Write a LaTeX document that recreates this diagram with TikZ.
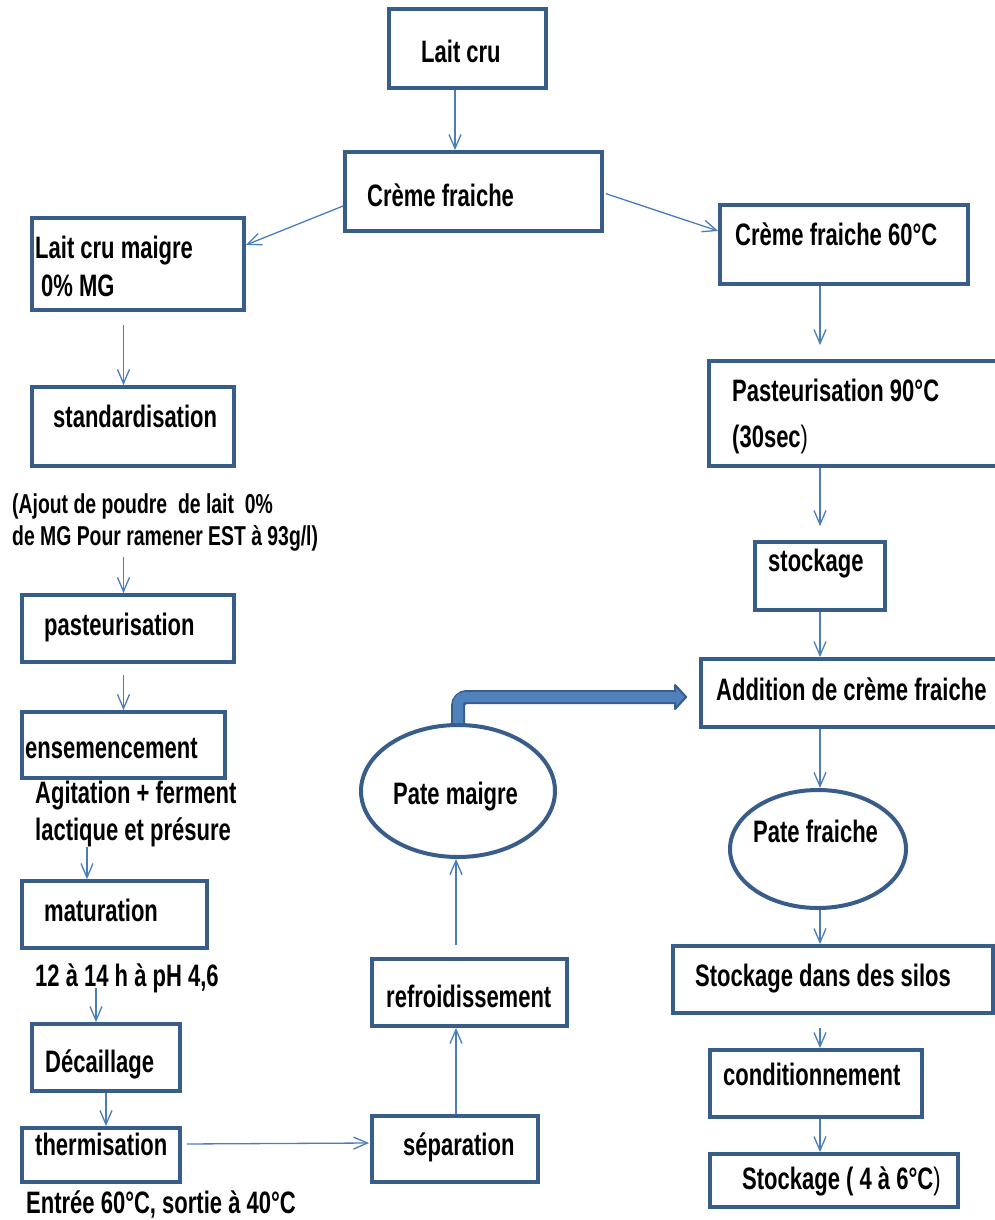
\documentclass[tikz,border=0pt]{standalone}
\usepackage{fontspec}
\setmainfont[FakeStretch=0.71]{Liberation Sans}
\usetikzlibrary{arrows.meta,shapes.geometric}
\definecolor{bdark}{RGB}{56,93,138}
\definecolor{aline}{RGB}{74,126,187}
\definecolor{bfill}{RGB}{79,129,189}
\begin{document}
\begin{tikzpicture}[x=1pt,y=-1pt,
  box/.style={draw=bdark, line width=3.8pt, fill=white, rectangle, inner sep=0pt},
  oval/.style={draw=bdark, line width=4pt, fill=white, ellipse, inner sep=0pt},
  txt/.style={inner sep=0pt, anchor=base west, font=\bfseries\fontsize{31}{36}\selectfont},
  smalltxt/.style={txt, font=\bfseries\fontsize{27.3}{32}\selectfont},
  conn/.style={draw=aline, line width=1.3pt, -{Straight Barb[length=14pt,width=12pt,line width=1.3pt]}},
]
\useasboundingbox (0,0) rectangle (995,1220);
\clip (0,0) rectangle (995,1220);
\fill[white] (0,0) rectangle (995,1220);

% columns
\coordinate (cA) at (455,0);
\coordinate (cL) at (123.5,0);
\coordinate (cE) at (87,0);
\coordinate (cF) at (96,0);
\coordinate (cG) at (106,0);
\coordinate (cM) at (456,0);
\coordinate (cR) at (820,0);

% boxes
\node[box, minimum width=157pt, minimum height=79pt] (laitcru) at (467.5,48.5) {};
\node[box, minimum width=257pt, minimum height=79pt] (creme) at (473.5,191.5) {};
\node[box, minimum width=212pt, minimum height=92pt] (maigre) at (138,264) {};
\node[box, minimum width=248pt, minimum height=79pt] (creme60) at (844,244.5) {};
\node[box, minimum width=202pt, minimum height=79pt] (std) at (133,426.5) {};
\node[box, minimum width=212pt, minimum height=67pt] (past) at (128,628.5) {};
\node[box, minimum width=203pt, minimum height=66pt] (ens) at (123.5,745) {};
\node[box, minimum width=185pt, minimum height=67pt] (mat) at (114.5,914.5) {};
\node[box, minimum width=148pt, minimum height=67pt] (dec) at (106,1057.5) {};
\node[box, minimum width=158pt, minimum height=54pt] (therm) at (101,1155) {};
\node[box, minimum width=166pt, minimum height=66pt] (sep) at (455,1149) {};
\node[box, minimum width=195pt, minimum height=67pt] (refr) at (469.5,992.5) {};
\node[box, minimum width=296pt, minimum height=105pt] (past90) at (857,413.5) {};
\node[box, minimum width=130pt, minimum height=68pt] (stock) at (820,576) {};
\node[box, minimum width=304pt, minimum height=68pt] (add) at (853,693) {};
\node[box, minimum width=320pt, minimum height=67pt] (silos) at (833,979.5) {};
\node[box, minimum width=212pt, minimum height=67pt] (cond) at (816,1083.5) {};
\node[box, minimum width=248pt, minimum height=53pt] (stock46) at (834,1180.5) {};

% ellipses
\node[oval, minimum width=194pt, minimum height=132pt] (pm) at (458,791) {};
\node[oval, minimum width=176pt, minimum height=118pt] (pf) at (818,849) {};

% texts
\node[txt] (tlaitcru) at (421,63) {Lait cru};
\node[txt] (tcreme) at (367,206) {Crème fraiche};
\node[txt] (tmaigre1) at (35,258) {Lait cru maigre};
\node[txt] (tmaigre2) at (41,296) {0\% MG};
\node[txt] (tcreme60) at (735,245) {Crème fraiche 60°C};
\node[txt] (tstd) at (53,427) {standardisation};
\node[smalltxt] (note1a) at (12,513) {(Ajout de poudre\ \ de lait\ \ 0\%};
\node[smalltxt] (note1b) at (12,545) {de MG Pour ramener EST à 93g/l)};
\node[txt] (tpast) at (44,635) {pasteurisation};
\node[txt] (tens) at (25,758) {ensemencement};
\node[txt] (note2a) at (35,803) {Agitation + ferment};
\node[txt] (note2b) at (35,840) {lactique et présure};
\node[txt] (tmat) at (44,921) {maturation};
\node[txt] (note3) at (35,986) {12 à 14 h à pH 4,6};
\node[txt] (tdec) at (45,1072) {Décaillage};
\node[txt] (ttherm) at (35,1155) {thermisation};
\node[txt] (note4) at (26,1213) {Entrée 60°C, sortie à 40°C};
\node[txt] (tsep) at (403,1155) {séparation};
\node[txt] (trefr) at (386,1007) {refroidissement};
\node[txt] (tpm) at (393,804) {Pate maigre};
\node[txt] (tpast90a) at (732,401) {Pasteurisation 90°C};
\node[txt] (tpast90b) at (732,447) {(30sec{\mdseries)}};
\node[txt] (tstock) at (768,571) {stockage};
\node[txt] (tadd) at (716,700) {Addition de crème fraiche};
\node[txt] (tpf) at (753,842) {Pate fraiche};
\node[txt] (tsilos) at (695,986) {Stockage dans des silos};
\node[txt] (tcond) at (723,1085) {conditionnement};
\node[txt] (tstock46) at (742,1189) {Stockage ( 4 à 6°C{\mdseries)}};

% connectors
\draw[conn] (laitcru.south -| cA) -- (creme.north -| cA);
\draw[conn] ([yshift=-14.5pt]creme.west) -- ([yshift=19pt]maigre.east);
\draw[conn, shorten <=2pt] ([yshift=-1.5pt]creme.east) -- ([yshift=13.5pt]creme60.west);
\draw[conn, shorten <=13pt] (maigre.south -| cL) -- (std.north -| cL);
\draw[conn, shorten <=6pt] (note1b.south -| cL) -- (past.north -| cL);
\draw[conn, shorten <=11pt] (past.south -| cL) -- (ens.north -| cL);
\draw[conn] (note2b.south -| cE) -- (mat.north -| cE);
\draw[conn, shorten <=-5pt] (note3.south -| cF) -- (dec.north -| cF);
\draw[conn] (dec.south -| cG) -- (therm.north -| cG);
\draw[conn, shorten <=5pt, shorten >=1pt] ([yshift=11pt]therm.east) -- ([yshift=6pt]sep.west);
\draw[conn] (sep.north -| cM) -- (refr.south -| cM);
\draw[conn, shorten <=12pt] (refr.north -| cM) -- (pm.south -| cM);
\draw[conn, shorten >=14pt] (creme60.south -| cR) -- (past90.north -| cR);
\draw[conn, shorten >=14pt] (past90.south -| cR) -- (stock.north -| cR);
\draw[conn] (stock.south -| cR) -- (add.north -| cR);
\draw[conn] (add.south -| cR) -- (pf.north -| cR);
\draw[conn] (pf.south -| cR) -- (silos.north -| cR);
\draw[conn, shorten <=13pt] (silos.south -| cR) -- (cond.north -| cR);
\draw[conn] (cond.south -| cR) -- (stock46.north -| cR);

% thick bent arrow
\coordinate (hb) at ([xshift=-24pt,yshift=-4pt]add.west);
\draw[bdark, line width=14pt, rounded corners=9pt] ([yshift=-2pt]pm.north) |- (hb);
\filldraw[fill=bfill, draw=bdark, line width=2pt, line join=round] ([yshift=12pt]hb) -- ([xshift=11pt]hb) -- ([yshift=-12pt]hb) -- cycle;
\draw[bfill, line width=10pt, rounded corners=7pt] (pm.north) |- ([xshift=3pt]hb);
\end{tikzpicture}
\end{document}
